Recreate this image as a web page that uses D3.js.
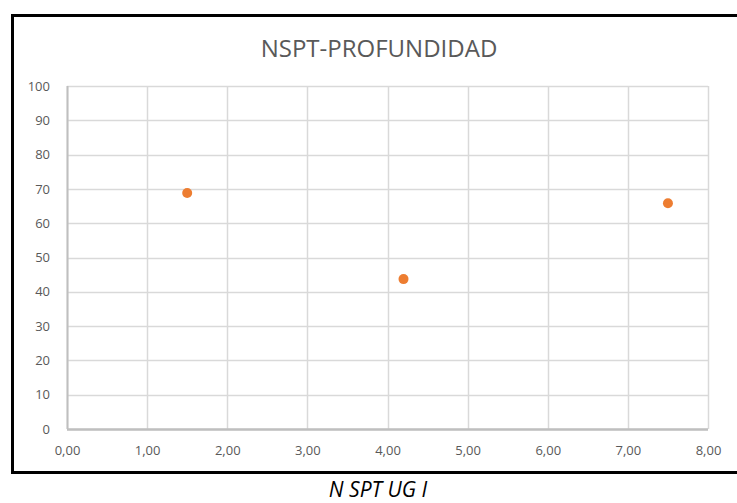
<!DOCTYPE html>
<html>
<head>
<meta charset="utf-8">
<script src="https://cdn.jsdelivr.net/npm/d3@7"></script>
<style>
  body { margin: 0; background: #fff; }
  svg { display: block; }
</style>
</head>
<body>
<div id="chart"></div>
<script>
// data
var xValues = [1.5, 4.2, 7.5];
var yValues = [68.8, 43.7, 65.8];
var xTicks = [0, 1, 2, 3, 4, 5, 6, 7, 8];
var yTicks = [0, 10, 20, 30, 40, 50, 60, 70, 80, 90, 100];
var chartTitle = "NSPT-PROFUNDIDAD";
var captionText = "N SPT UG I";

var width = 737, height = 503;
var margin = {top: 86, right: 29, bottom: 74, left: 67};

var svg = d3.select("#chart")
    .append("svg")
    .attr("width", width)
    .attr("height", height);

// outer frame (right side runs off the picture)
svg.append("path")
    .attr("d", "M745,15.5 H12.5 V472.5 H745")
    .attr("fill", "none")
    .attr("stroke", "#000")
    .attr("stroke-width", 3);

var x = d3.scaleLinear()
    .domain([0, 8])
    .range([margin.left, width - margin.right]);

var y = d3.scaleLinear()
    .domain([0, 100])
    .range([height - margin.bottom, margin.top]);

//gridlines
svg.append("g")
    .selectAll("line")
    .data(yTicks)
    .enter()
    .append("line")
    .attr("x1", x(0))
    .attr("x2", x(8))
    .attr("y1", d => Math.round(y(d)) + 0.5)
    .attr("y2", d => Math.round(y(d)) + 0.5)
    .attr("stroke", "#d9d9d9")
    .attr("stroke-width", 1.5);

svg.append("g")
    .selectAll("line")
    .data(xTicks)
    .enter()
    .append("line")
    .attr("x1", d => Math.round(x(d)) + 0.5)
    .attr("x2", d => Math.round(x(d)) + 0.5)
    .attr("y1", y(100))
    .attr("y2", y(0))
    .attr("stroke", "#d9d9d9")
    .attr("stroke-width", 1.5);

//axes lines
svg.append("line")
    .attr("x1", x(0)).attr("x2", x(8))
    .attr("y1", y(0) + 0.5).attr("y2", y(0) + 0.5)
    .attr("stroke", "#bfbfbf")
    .attr("stroke-width", 2.5);
svg.append("line")
    .attr("x1", x(0) + 0.5).attr("x2", x(0) + 0.5)
    .attr("y1", y(100)).attr("y2", y(0))
    .attr("stroke", "#bfbfbf")
    .attr("stroke-width", 2);

//bottom axis labels
var fmt = d => d3.format(".2f")(d).replace(".", ",");
var axisBottom = d3.axisBottom(x)
    .tickValues(xTicks)
    .tickFormat(fmt)
    .tickSize(0)
    .tickPadding(17);
svg.append("g")
    .attr("class", "bottomAxis")
    .attr("transform", "translate(0," + y(0) + ")")
    .call(axisBottom);

//left axis labels
var axisLeft = d3.axisLeft(y)
    .tickValues(yTicks)
    .tickSize(0)
    .tickPadding(17);
svg.append("g")
    .attr("class", "leftAxis")
    .attr("transform", "translate(" + x(0) + ",0)")
    .call(axisLeft);

svg.selectAll(".domain").remove();
svg.selectAll(".tick text")
    .attr("fill", "#595959")
    .attr("font-family", "Open Sans, sans-serif")
    .attr("font-size", 13);

//points
svg.append("g")
    .selectAll("circle")
    .data(xValues)
    .enter()
    .append("circle")
    .attr("cx", (d) => x(d))
    .attr("cy", (d, i) => y(yValues[i]))
    .attr("r", 5)
    .attr("fill", "#ed7d31");

//title
svg.append("text")
    .attr("x", 379)
    .attr("y", 57)
    .attr("text-anchor", "middle")
    .attr("fill", "#595959")
    .attr("font-family", "Open Sans, sans-serif")
    .attr("font-size", 24)
    .text(chartTitle);

//caption under the frame
svg.append("text")
    .attr("x", 378)
    .attr("y", 497)
    .attr("text-anchor", "middle")
    .attr("fill", "#000")
    .attr("font-family", "Open Sans, sans-serif")
    .attr("font-style", "italic")
    .attr("font-size", 21)
    .text(captionText);
</script>
</body>
</html>
